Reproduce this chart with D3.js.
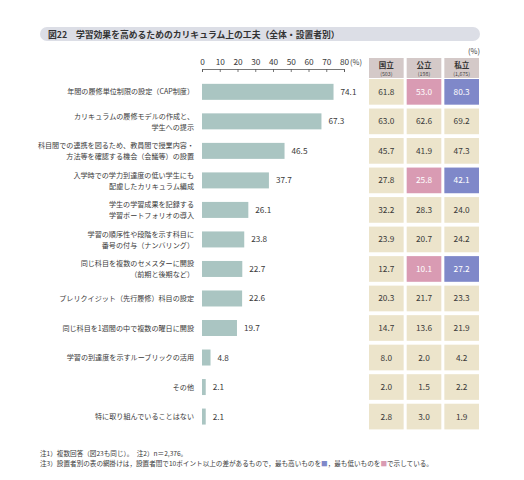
<!DOCTYPE html>
<html><head><meta charset="utf-8">
<script src="https://cdn.jsdelivr.net/npm/d3@7"></script>
<style>body{margin:0;background:#fff}svg{display:block;font-family:"Noto Sans CJK JP","Noto Sans",sans-serif}</style>
</head><body><svg id="c" width="524" height="480"></svg>
<script>
const categories = [
  ["年間の履修単位制限の設定（CAP制度）"],
  ["カリキュラムの履修モデルの作成と、","学生への提示"],
  ["科目間での連携を図るため、教員間で授業内容・","方法等を確認する機会（会議等）の設置"],
  ["入学時での学力到達度の低い学生にも","配慮したカリキュラム編成"],
  ["学生の学習成果を記録する","学習ポートフォリオの導入"],
  ["学習の順序性や段階を示す科目に","番号の付与（ナンバリング）"],
  ["同じ科目を複数のセメスターに開設","（前期と後期など）"],
  ["プレリクイジット（先行履修）科目の設定"],
  ["同じ科目を1週間の中で複数の曜日に開設"],
  ["学習の到達度を示すルーブリックの活用"],
  ["その他"],
  ["特に取り組んでいることはない"]
];
const total    = [74.1,67.3,46.5,37.7,26.1,23.8,22.7,22.6,19.7,4.8,2.1,2.1];
const national = [61.8,63.0,45.7,27.8,32.2,23.9,12.7,20.3,14.7,8.0,2.0,2.8];
const publicU  = [53.0,62.6,41.9,25.8,28.3,20.7,10.1,21.7,13.6,2.0,1.5,3.0];
const privateU = [80.3,69.2,47.3,42.1,24.0,24.2,27.2,23.3,21.9,4.2,2.2,1.9];
const groups = ["国立","公立","私立"];
const groupN = ["(503)","(198)","(1,675)"];
const xTicks = [0,10,20,30,40,50,60,70,80];
// highlight: "high" / "low" per row & group (10pt+ difference)
const highlight = [
  ["","low","high"],["","",""],["","",""],["","low","high"],["","",""],["","",""],
  ["","low","high"],["","",""],["","",""],["","",""],["","",""],["","",""]
];
const tableSeries = [national, publicU, privateU];

const svg = d3.select("#c");
const dark = "#3a3a3a";

// title pill
svg.append("rect").attr("x",40).attr("y",27).attr("width",440).attr("height",14)
  .attr("rx",7).attr("fill","#dcdee6");
svg.append("text").attr("x",48).attr("y",37.5).attr("font-size",8.8).attr("font-weight",700)
  .attr("fill","#333").text("図22　学習効果を高めるためのカリキュラム上の工夫（全体・設置者別）");

const idx = d3.range(categories.length);
const x = d3.scaleLinear().domain([0,80]).range([202,344]);
const y = d3.scaleBand().domain(idx).range([79,429.4]).paddingInner(0.13).paddingOuter(0);
const col = d3.scaleBand().domain([0,1,2]).range([369,479]).paddingInner(0.08);

// axis
const ax = svg.append("g").attr("transform","translate(0,69)")
  .call(d3.axisTop(x).tickValues(xTicks).tickSize(-3).tickPadding(4));
ax.selectAll("path,line").attr("stroke","#555").attr("stroke-width",0.8);
ax.selectAll("text").attr("font-size",8.3).attr("fill",dark).attr("font-family","Noto Sans CJK JP");
svg.append("text").attr("x",350).attr("y",65).attr("font-size",7.5).attr("fill",dark).text("(%)");

// bars
const bh = 16;
svg.append("g").selectAll("rect").data(idx).join("rect")
  .attr("x",x(0)).attr("y",i=>y(i)+y.bandwidth()/2-bh/2)
  .attr("width",i=>x(total[i])-x(0)).attr("height",bh).attr("fill","#aac5c2");
svg.append("g").selectAll("text").data(idx).join("text")
  .attr("x",i=>x(total[i])+7).attr("y",i=>y(i)+y.bandwidth()/2+3)
  .attr("font-size",8.2).attr("fill",dark).text(i=>total[i].toFixed(1));

// category labels
const lab = svg.append("g").selectAll("text").data(idx).join("text")
  .attr("text-anchor","end").attr("font-size",7.1).attr("fill",dark)
  .attr("y",i=>y(i)+y.bandwidth()/2 + (categories[i].length===1?2.6:-2.8));
lab.selectAll("tspan").data(i=>categories[i]).join("tspan")
  .attr("x",194).attr("dy",(d,k)=>k===0?0:11).text(d=>d);

// table header
svg.append("text").attr("x",col(2)+col.bandwidth()+1).attr("y",54).attr("text-anchor","end")
  .attr("font-size",7.5).attr("fill",dark).text("(%)");
const hdr = svg.append("g").selectAll("g").data([0,1,2]).join("g");
hdr.append("rect").attr("x",j=>col(j)).attr("y",58).attr("width",col.bandwidth()).attr("height",20)
  .attr("fill","#d4c9c8");
hdr.append("text").attr("x",j=>col(j)+col.bandwidth()/2).attr("y",68).attr("text-anchor","middle")
  .attr("font-size",7.5).attr("font-weight",700).attr("fill","#333").text(j=>groups[j]);
hdr.append("text").attr("x",j=>col(j)+col.bandwidth()/2).attr("y",76).attr("text-anchor","middle")
  .attr("font-size",5.3).attr("fill","#444").text(j=>groupN[j]);

// table cells
const fillFor = h => h==="high" ? "#7f88c9" : h==="low" ? "#d99bb3" : "#ece4cb";
const cells = [];
idx.forEach(i=>[0,1,2].forEach(j=>cells.push({i,j,v:tableSeries[j][i],h:highlight[i][j]})));
const cg = svg.append("g").selectAll("g").data(cells).join("g");
cg.append("rect").attr("x",d=>col(d.j)).attr("y",d=>y(d.i)).attr("width",col.bandwidth())
  .attr("height",y.bandwidth()).attr("fill",d=>fillFor(d.h));
cg.append("text").attr("x",d=>col(d.j)+col.bandwidth()/2).attr("y",d=>y(d.i)+y.bandwidth()/2+3)
  .attr("text-anchor","middle").attr("font-size",8.3)
  .attr("fill",d=>d.h?"#fff":dark).text(d=>d.v.toFixed(1));

// footnotes
svg.append("text").attr("x",40).attr("y",456).attr("font-size",6.6).attr("fill",dark)
  .text("注1）複数回答（図23も同じ）。　注2）n＝2,376。");
const f3 = svg.append("text").attr("x",40).attr("y",466).attr("font-size",6.6).attr("fill",dark);
f3.append("tspan").text("注3）設置者別の表の網掛けは，設置者間で10ポイント以上の差があるもので，最も高いものを");
f3.append("tspan").attr("fill","#7f88c9").text("■");
f3.append("tspan").text("，最も低いものを");
f3.append("tspan").attr("fill","#d99bb3").text("■");
f3.append("tspan").text("で示している。");
</script></body></html>
